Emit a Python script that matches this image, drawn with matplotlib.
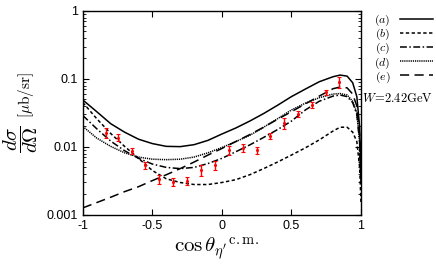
"""Sección eficaz diferencial eta' a W=2.42 GeV: curvas (a)-(e) + datos."""

import matplotlib

matplotlib.use("Agg")
import matplotlib.pyplot as plt
from matplotlib.ticker import FixedLocator, LogLocator, NullFormatter

# --- datos ---
COS = [-1.0, -0.9, -0.8, -0.7, -0.6, -0.5, -0.4, -0.3, -0.2, -0.1, 0.0, 0.1, 0.2,
       0.3, 0.4, 0.5, 0.6, 0.7, 0.8, 0.85, 0.9, 0.94, 0.97, 0.99, 1.0]

CURVE_A = [0.049, 0.033, 0.022, 0.0165, 0.013, 0.0112, 0.0102, 0.0101, 0.0108, 0.0125,
           0.0155, 0.019, 0.024, 0.031, 0.041, 0.055, 0.071, 0.091, 0.108, 0.114,
           0.11, 0.088, 0.055, 0.02, 0.004]
CURVE_B = [0.045, 0.026, 0.0158, 0.0102, 0.0068, 0.0045, 0.0034, 0.003, 0.0028, 0.0028,
           0.003, 0.0033, 0.0039, 0.0048, 0.006, 0.0076, 0.0097, 0.0127, 0.0172, 0.0195,
           0.0195, 0.0165, 0.012, 0.005, 0.0015]
CURVE_C = [0.029, 0.0185, 0.0122, 0.0088, 0.0068, 0.0056, 0.005, 0.0048, 0.005, 0.0057,
           0.0068, 0.0085, 0.0107, 0.0138, 0.018, 0.024, 0.035, 0.047, 0.056, 0.058,
           0.055, 0.045, 0.03, 0.012, 0.003]
CURVE_D = [0.020, 0.0135, 0.0102, 0.0082, 0.0071, 0.0066, 0.0065, 0.0066, 0.0071, 0.0082,
           0.0098, 0.012, 0.0148, 0.0195, 0.026, 0.035, 0.044, 0.053, 0.06, 0.061,
           0.058, 0.047, 0.032, 0.012, 0.003]
CURVE_E = [0.00127, 0.00152, 0.00182, 0.0022, 0.0026, 0.0032, 0.0039, 0.0048, 0.006, 0.0076,
           0.0095, 0.012, 0.0152, 0.0195, 0.0255, 0.033, 0.043, 0.056, 0.072, 0.076,
           0.074, 0.06, 0.04, 0.015, 0.003]

DATA_COS = [-0.83, -0.75, -0.65, -0.55, -0.45, -0.35, -0.25, -0.15, -0.05, 0.05, 0.15,
            0.25, 0.345, 0.446, 0.547, 0.645, 0.746, 0.844]
DATA_VAL = [0.0162, 0.0137, 0.0088, 0.0054, 0.00335, 0.0031, 0.0032, 0.0046, 0.0054,
            0.0089, 0.0096, 0.0090, 0.0147, 0.0227, 0.0303, 0.0415, 0.0637, 0.091]
DATA_ERR = [0.0028, 0.0016, 0.00094, 0.0007, 0.00047, 0.00043, 0.00042, 0.00083, 0.00087,
            0.00125, 0.0013, 0.0011, 0.0015, 0.0041, 0.0032, 0.0037, 0.0056, 0.0164]

LABELS = ["$(a)$", "$(b)$", "$(c)$", "$(d)$", "$(e)$"]
X_TICKS = [-1, -0.5, 0, 0.5, 1]
X_TICKLABELS = ["-1", "-0.5", "0", "0.5", "1"]
Y_TICKS = [0.001, 0.01, 0.1, 1]
Y_TICKLABELS = ["0.001", "0.01", "0.1", "1"]


def main() -> None:
    plt.rcParams["mathtext.fontset"] = "cm"
    plt.rcParams["font.family"] = "Liberation Sans"

    fig = plt.figure(figsize=(4.36, 2.67), dpi=100)
    ax = fig.add_axes([0.19, 0.195, 0.638, 0.764])

    lw = 1.1
    styles = [
        dict(linestyle="-"),
        dict(dashes=(2.2, 1.6)),
        dict(dashes=(4.5, 1.6, 1.0, 1.6)),
        dict(dashes=(0.8, 0.6)),
        dict(dashes=(6.0, 3.5)),
    ]
    curves = [CURVE_A, CURVE_B, CURVE_C, CURVE_D, CURVE_E]
    for ys, st, lab in zip(curves, styles, LABELS):
        ax.plot(COS, ys, color="black", lw=lw, label=lab, **st)

    ax.errorbar(DATA_COS, DATA_VAL, yerr=DATA_ERR, fmt="o", ms=1.2, color="red",
                ecolor="red", elinewidth=1.0, capsize=1.5, capthick=0.8, zorder=5)

    ax.set_yscale("log")
    ax.set_xlim(-1, 1)
    ax.set_ylim(0.001, 1)
    ax.xaxis.set_major_locator(FixedLocator(X_TICKS))
    ax.set_xticklabels(X_TICKLABELS)
    ax.yaxis.set_major_locator(FixedLocator(Y_TICKS))
    ax.set_yticklabels(Y_TICKLABELS)
    ax.yaxis.set_minor_locator(LogLocator(base=10, subs=range(2, 10)))
    ax.yaxis.set_minor_formatter(NullFormatter())
    ax.tick_params(which="both", direction="in", top=True, right=True, labelsize=9)
    ax.tick_params(which="major", length=4, width=0.8)
    ax.tick_params(which="minor", length=2, width=0.6)
    for sp in ax.spines.values():
        sp.set_linewidth(1.0)

    # etiquetas de ejes
    fig.text(21 / 436, 1 - 139 / 267, r"$\dfrac{d\sigma}{d\Omega}$", rotation=90,
             ha="center", va="center", fontsize=15)
    fig.text(26 / 436, 1 - 95 / 267, r"$[\mu\mathrm{b/sr}]$", rotation=90,
             ha="center", va="center", fontsize=11)
    fig.text(216 / 436, 1 - 249 / 267,
             r"$\cos\theta_{\eta^{\prime}}{}^{\mathrm{c.m.}}$",
             ha="center", va="center", fontsize=15)

    leg = ax.legend(loc="upper left", bbox_to_anchor=(374 / 436, 1 - 13 / 267),
                    bbox_transform=fig.transFigure, frameon=False, markerfirst=False,
                    handlelength=2.8, handletextpad=0.8, labelspacing=-0.1,
                    fontsize=8.5, borderpad=0.0, borderaxespad=0.0)
    for line in leg.get_lines():
        line.set_linewidth(lw)
    fig.text(433 / 436, 1 - 98 / 267, r"$W\!=\!2.42\mathrm{GeV}$", ha="right",
             va="center", fontsize=9)

    fig.savefig("out.png", dpi=100)
    plt.close(fig)


if __name__ == "__main__":
    main()
